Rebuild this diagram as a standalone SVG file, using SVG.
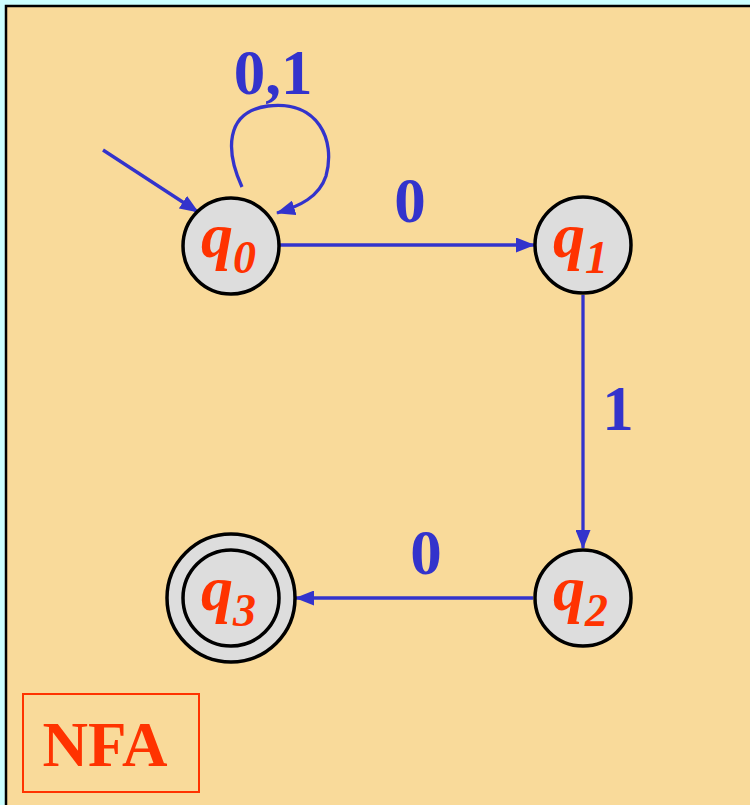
<svg xmlns="http://www.w3.org/2000/svg" width="750" height="805" viewBox="0 0 750 805">
<defs>
<style>
.edge{fill:none;stroke:#3333CC;stroke-width:3.3}
.state{fill:#DDDDDD;stroke:#000;stroke-width:3.5}
.lbl{font-family:"Liberation Serif",serif;font-weight:bold;fill:#3333CC;font-size:63px;text-anchor:middle}
.q{font-family:"Liberation Serif",serif;font-weight:bold;font-style:italic;fill:#FF3300}
</style>
<marker id="arr" markerWidth="20" markerHeight="15" refX="18" refY="7.5" orient="auto" markerUnits="userSpaceOnUse">
<path d="M0,0 L19,7.5 L0,15 Z" fill="#3333CC"/>
</marker>
</defs>
<rect x="0" y="0" width="750" height="805" fill="#CCFFFF"/>
<rect x="6" y="6" width="750" height="805" fill="#F9DA9A" stroke="#000" stroke-width="2.5"/>
<g id="connectors">
<line class="edge" x1="103" y1="150" x2="198" y2="212" marker-end="url(#arr)"/>
<path class="edge" d="M242,187 C226,152 224,112 268,106 C318,100 336,140 326,176 C319,197 300,206 277,213" marker-end="url(#arr)"/>
<line class="edge" x1="280" y1="245" x2="534" y2="245" marker-end="url(#arr)"/>
<line class="edge" x1="583" y1="295" x2="583" y2="548" marker-end="url(#arr)"/>
<line class="edge" x1="533" y1="598" x2="296" y2="598" marker-end="url(#arr)"/>
<text class="lbl" x="273" y="94">0,1</text>
<text class="lbl" x="410" y="222">0</text>
<text class="lbl" x="618" y="430">1</text>
<text class="lbl" x="426" y="574">0</text>
</g>
<g id="q0">
<circle class="state" cx="231" cy="246" r="48"/>
<text class="q" x="201" y="257" font-size="64">q<tspan font-size="46" dy="16">0</tspan></text>
</g>
<g id="q1">
<circle class="state" cx="583" cy="245" r="48"/>
<text class="q" x="553" y="257" font-size="64">q<tspan font-size="46" dy="16">1</tspan></text>
</g>
<g id="q2">
<circle class="state" cx="583" cy="598" r="48"/>
<text class="q" x="553" y="610" font-size="64">q<tspan font-size="46" dy="16">2</tspan></text>
</g>
<g id="q3">
<circle class="state" cx="231" cy="598" r="64"/>
<circle class="state" cx="231" cy="598" r="48"/>
<text class="q" x="201" y="610" font-size="64">q<tspan font-size="46" dy="16">3</tspan></text>
</g>
<g id="nfa">
<rect x="23" y="694" width="176" height="98" fill="none" stroke="#FF3300" stroke-width="2"/>
<text x="105" y="766" font-family="Liberation Serif,serif" font-weight="bold" font-size="63" fill="#FF3300" text-anchor="middle">NFA</text>
</g>
</svg>
